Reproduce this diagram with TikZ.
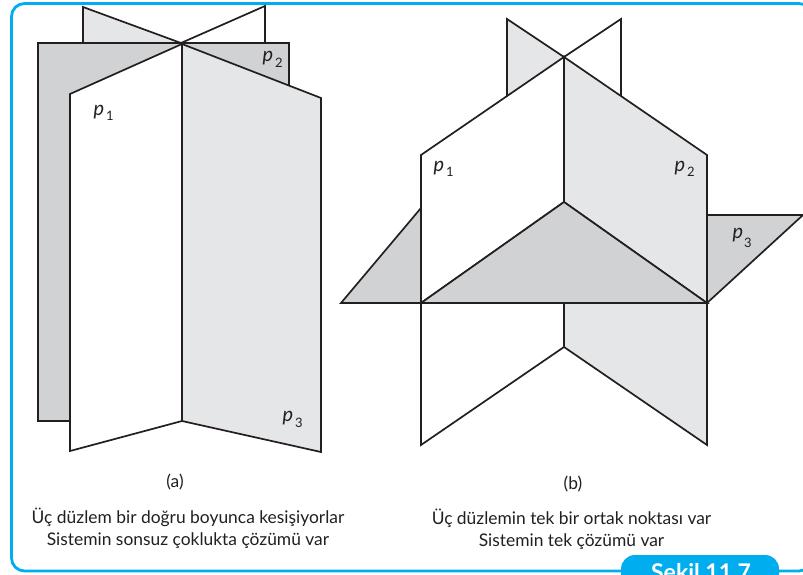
\documentclass[tikz,border=0pt]{standalone}
\usepackage{fontspec}
\setmainfont{Lato}
\definecolor{frameblue}{HTML}{00AEEF}
\definecolor{inkdark}{HTML}{231F20}
\definecolor{lightplane}{HTML}{E5E6E8}
\definecolor{midplane}{HTML}{D1D2D4}
\begin{document}
\begin{tikzpicture}[x=1pt,y=-1pt,
  plane/.style={draw=inkdark,line width=1.7pt,line join=miter},
  lightp/.style={plane,fill=lightplane},
  midp/.style={plane,fill=midplane},
  whitep/.style={plane,fill=white},
  caption/.style={text=inkdark,font=\fontsize{17.4}{22}\selectfont,align=center,inner sep=0pt},
  pname/.style={text=inkdark,font=\fontsize{20}{20}\selectfont\itshape,inner sep=0pt},
  pindex/.style={text=inkdark,font=\fontsize{13}{13}\selectfont,inner sep=0pt}]
\useasboundingbox (0,0) rectangle (803,575);
\clip (0,0) rectangle (803,575);
\fill[white] (0,0) rectangle (803,575);
\draw[frameblue,line width=2.8pt,rounded corners=13pt] (11.5,3.5) rectangle (812,571);
% (a)
\draw[lightp] (83,7) -- (181,43) -- (83,43) -- cycle;
\draw[whitep] (265,6) -- (181,43) -- (265,43) -- cycle;
\draw[midp] (38,43) -- (289,43) -- (289,421) -- (38,421) -- cycle;
\draw[whitep] (70,94) -- (182,44) -- (182,421) -- (70,451) -- cycle;
\draw[lightp] (182,44) -- (321,98) -- (321,452) -- (182,421) -- cycle;
\node[pname] (a1) at (99,112) {p};
\node[pindex] (a1i) at (110,116) {1};
\node[pname] (a2) at (268,58) {p};
\node[pindex] (a2i) at (279,63) {2};
\node[pname] (a3) at (288,418) {p};
\node[pindex] (a3i) at (299,423) {3};
\node[caption] (alabel) at (175,482) {(a)};
\node[caption,anchor=north] (atext) at (188,508) {Üç düzlem bir doğru boyunca kesişiyorlar\\Sistemin sonsuz çoklukta çözümü var};
% (b)
\draw[lightp] (507,19) -- (564,57) -- (564,96) -- (507,96) -- cycle;
\draw[whitep] (621,19) -- (564,57) -- (564,96) -- (621,96) -- cycle;
\draw[midp] (341,303) -- (421,208) -- (421,303) -- cycle;
\draw[midp] (707,215) -- (803,215) -- (707,303) -- cycle;
\draw[whitep] (421,155) -- (564,57) -- (564,202) -- (421,303) -- cycle;
\draw[lightp] (564,57) -- (707,155) -- (707,303) -- (564,202) -- cycle;
\draw[midp] (564,202) -- (707,303) -- (421,303) -- cycle;
\draw[whitep] (421,303) -- (564,303) -- (564,347) -- (421,445) -- cycle;
\draw[lightp] (564,303) -- (707,303) -- (707,445) -- (564,347) -- cycle;
\draw[plane] (341,303) -- (707,303);
\node[pname] (b1) at (439,168) {p};
\node[pindex] (b1i) at (450,172) {1};
\node[pname] (b2) at (680,168) {p};
\node[pindex] (b2i) at (691,172) {2};
\node[pname] (b3) at (738,235) {p};
\node[pindex] (b3i) at (748,243) {3};
\node[caption] (blabel) at (573,484) {(b)};
\node[caption,anchor=north] (btext) at (571.5,509) {Üç düzlemin tek bir ortak noktası var\\Sistemin tek çözümü var};
% tab
\fill[frameblue,rounded corners=14pt] (621,590) -- (621,555) -- (779,555) -- (779,590) -- cycle;
\node[text=white,font=\fontsize{23}{23}\selectfont\bfseries,inner sep=0pt,anchor=base] (tab) at (701,580) {Şekil 11.7};
\end{tikzpicture}
\end{document}
